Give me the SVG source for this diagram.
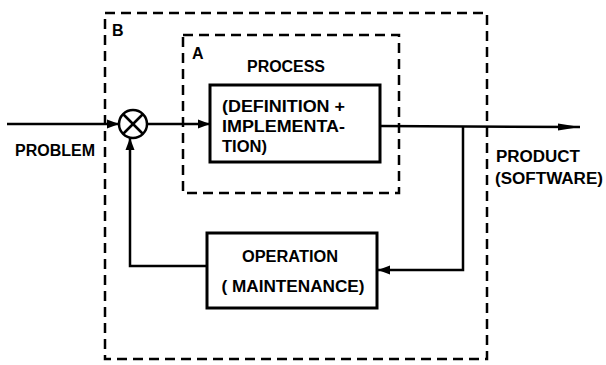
<svg xmlns="http://www.w3.org/2000/svg" width="606" height="365" viewBox="0 0 606 365">
<defs>
<marker id="ah" viewBox="0 0 12 10" refX="12" refY="5" markerWidth="12" markerHeight="10" markerUnits="userSpaceOnUse" orient="auto">
<path d="M0,0.5 L12,5 L0,9.5 Z" fill="#000"/>
</marker>
<marker id="ahl" viewBox="0 0 22 10" refX="22" refY="5" markerWidth="22" markerHeight="10" markerUnits="userSpaceOnUse" orient="auto">
<path d="M0,1.5 L22,5 L0,8.5 Z" fill="#000"/>
</marker>
</defs>
<style>
.dash{fill:none;stroke:#000;stroke-width:2.5;stroke-dasharray:10 6}
.box{fill:#fff;stroke:#000;stroke-width:3}
.ln{fill:none;stroke:#000;stroke-width:2.5}
text{font-family:"Liberation Sans",Arial,sans-serif;font-weight:bold;font-size:16px;fill:#000}
</style>
<rect width="606" height="365" fill="#fff"/>
<g id="boxB">
<rect class="dash" x="105" y="13" width="382" height="346"/>
<text x="112" y="36">B</text>
</g>
<g id="boxA">
<rect class="dash" x="183" y="35" width="216" height="158"/>
<text x="192" y="59">A</text>
<text x="286" y="72" text-anchor="middle" textLength="78" lengthAdjust="spacingAndGlyphs">PROCESS</text>
</g>
<g id="connectors">
<line class="ln" x1="7" y1="124" x2="119" y2="124" marker-end="url(#ah)"/>
<line class="ln" x1="147" y1="124" x2="210" y2="124" marker-end="url(#ah)"/>
<polyline class="ln" points="380,126 580,127" marker-end="url(#ahl)"/>
<polyline class="ln" points="463,126 463,270 378,270" marker-end="url(#ah)"/>
<polyline class="ln" points="207,266 130,266 130,138" marker-end="url(#ah)"/>
</g>
<g id="sum">
<circle cx="133" cy="124" r="14" fill="#fff" stroke="#000" stroke-width="2.5"/>
<line class="ln" x1="123" y1="114" x2="143" y2="134"/>
<line class="ln" x1="143" y1="114" x2="123" y2="134"/>
</g>
<g id="process">
<rect class="box" x="210" y="85" width="170" height="77"/>
<text x="222" y="112" textLength="123" lengthAdjust="spacingAndGlyphs">(DEFINITION +</text>
<text x="222" y="132" textLength="123" lengthAdjust="spacingAndGlyphs">IMPLEMENTA-</text>
<text x="222" y="152" textLength="45" lengthAdjust="spacingAndGlyphs">TION)</text>
</g>
<g id="operation">
<rect class="box" x="207" y="233" width="170" height="75"/>
<text x="290" y="262" text-anchor="middle" textLength="96" lengthAdjust="spacingAndGlyphs">OPERATION</text>
<text x="293" y="292" text-anchor="middle" textLength="143" lengthAdjust="spacingAndGlyphs">( MAINTENANCE)</text>
</g>
<g id="problem">
<text x="15" y="156" textLength="80" lengthAdjust="spacingAndGlyphs">PROBLEM</text>
</g>
<g id="product">
<text x="496" y="162" textLength="84" lengthAdjust="spacingAndGlyphs">PRODUCT</text>
<text x="495" y="184" textLength="108" lengthAdjust="spacingAndGlyphs">(SOFTWARE)</text>
</g>
</svg>
